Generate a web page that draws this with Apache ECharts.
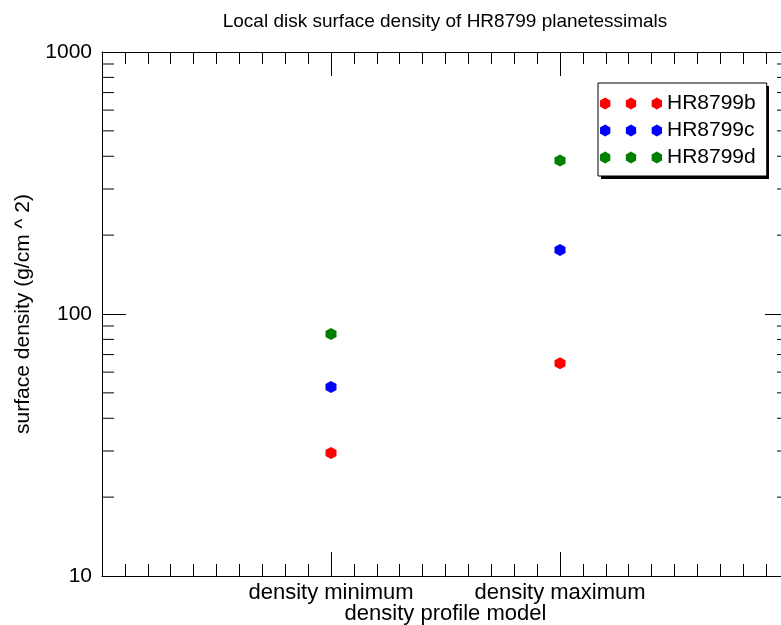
<!DOCTYPE html>
<html>
<head>
<meta charset="utf-8">
<script src="https://cdn.jsdelivr.net/npm/echarts@6/dist/echarts.min.js"></script>
<style>
html,body{margin:0;padding:0;background:#fff;}
#chart{width:781px;height:625px;}
</style>
</head>
<body>
<div id="chart"></div>
<script>
// ---- data ----
const categories = ['density minimum', 'density maximum'];
const categoryPositions = [1, 2];
const seriesNames = ['HR8799b', 'HR8799c', 'HR8799d'];
const hr8799b = [29.5, 64.9];
const hr8799c = [52.7, 175.5];
const hr8799d = [83.8, 385];
const yMajorTicks = [10, 100, 1000];
const yMinorTicks = [20, 30, 40, 50, 60, 70, 80, 90, 200, 300, 400, 500, 600, 700, 800, 900];

const FONT = "'Liberation Sans', Arial, Helvetica, sans-serif";
const colors = ['#ff0000', '#0000ff', '#008000'];
const hexPath = 'path://M0,-6 L5.2,-3 L5.2,3 L0,6 L-5.2,3 L-5.2,-3 Z';

function hexLegendPath() {
  const centers = [5.2, 31.2, 57.2];
  let p = 'path://';
  centers.forEach(function (cx) {
    p += 'M' + cx + ',0 L' + (cx + 5.2) + ',3 L' + (cx + 5.2) + ',9 L' + cx + ',12 L' + (cx - 5.2) + ',9 L' + (cx - 5.2) + ',3 Z ';
  });
  return p;
}

const seriesValues = [hr8799b, hr8799c, hr8799d];
const chart = echarts.init(document.getElementById('chart'), null, {renderer: 'canvas'});

function xAxisDef(pos, showLabel) {
  return {
    type: 'value', position: pos, min: 0, max: 3, interval: 1,
    axisLine: {show: true, lineStyle: {color: '#000', width: 1}},
    axisTick: {show: true, inside: true, length: 24, lineStyle: {color: '#000', width: 1}},
    minorTick: {show: true, splitNumber: 10, length: 12, lineStyle: {color: '#000', width: 1}},
    splitLine: {show: false}, minorSplitLine: {show: false},
    axisLabel: {
      show: showLabel, margin: 6, color: '#000', fontSize: 22, fontFamily: FONT,
      formatter: function (v) {
        const i = categoryPositions.indexOf(v);
        return i >= 0 ? categories[i] : '';
      }
    },
    name: showLabel ? 'density profile model' : '',
    nameLocation: 'middle', nameGap: 27, nameMoveOverlap: false,
    nameTextStyle: {color: '#000', fontSize: 22, fontFamily: FONT}
  };
}
function yAxisDef(pos, showLabel) {
  return {
    type: 'log', logBase: 10, position: pos, min: 10, max: 1000,
    axisLine: {show: true, onZero: false, lineStyle: {color: '#000', width: 1}},
    axisTick: {show: true, inside: true, length: 24, lineStyle: {color: '#000', width: 1}},
    minorTick: {show: false}, splitLine: {show: false},
    axisLabel: {
      show: showLabel, margin: 10, color: '#000', fontSize: 21, fontFamily: FONT,
      formatter: function (v) { return yMajorTicks.indexOf(Math.round(v)) >= 0 ? String(Math.round(v)) : ''; }
    },
    name: showLabel ? 'surface density (g/cm ^ 2)' : '',
    nameLocation: 'middle', nameGap: 68, nameMoveOverlap: false,
    nameTextStyle: {color: '#000', fontSize: 21, fontFamily: FONT}
  };
}

const series = seriesNames.map(function (name, k) {
  return {
    name: name, type: 'scatter', xAxisIndex: 0, yAxisIndex: 0,
    symbol: hexPath, symbolSize: [11, 12],
    itemStyle: {color: colors[k], opacity: 1},
    data: categoryPositions.map(function (x, i) { return [x, seriesValues[k][i]]; }),
    z: 5
  };
});

series.push({
  type: 'custom', xAxisIndex: 0, yAxisIndex: 0, silent: true, clip: false,
  data: yMinorTicks,
  renderItem: function (params, api) {
    const v = api.value(0);
    const l = api.coord([0, v]);
    const r = api.coord([3, v]);
    const st = {stroke: '#000', lineWidth: 1};
    return {
      type: 'group', children: [
        {type: 'line', shape: {x1: l[0], y1: l[1], x2: l[0] + 12, y2: l[1]}, style: st},
        {type: 'line', shape: {x1: r[0] - 12, y1: r[1], x2: r[0], y2: r[1]}, style: st}
      ]
    };
  },
  encode: {y: 0},
  z: 3
});

chart.setOption({
  animation: false,
  backgroundColor: '#fff',
  graphic: [
    {
      type: 'text', x: 445, y: 22, z: 10,
      style: {text: 'Local disk surface density of HR8799 planetessimals', align: 'center', verticalAlign: 'middle',
        font: '19px ' + FONT, fill: '#000'}
    },
    {
      type: 'rect', z: 0, silent: true,
      shape: {x: 601, y: 86, width: 168, height: 93},
      style: {fill: '#000'}
    }
  ],
  grid: {left: 102, top: 52, width: 687, height: 524, containLabel: false, outerBoundsMode: 'none'},
  xAxis: [xAxisDef('bottom', true), xAxisDef('top', false)],
  yAxis: [yAxisDef('left', true), yAxisDef('right', false)],
  legend: {
    orient: 'vertical', left: 598, top: 83, z: 20,
    padding: [10, 11, 8, 2], itemGap: 6,
    itemWidth: 62, itemHeight: 12,
    icon: hexLegendPath(),
    selectedMode: false,
    data: seriesNames,
    textStyle: {color: '#000', fontSize: 21, fontFamily: FONT},
    backgroundColor: '#fff', borderColor: '#000', borderWidth: 1, borderRadius: 0
  },
  series: series
});
</script>
</body>
</html>
